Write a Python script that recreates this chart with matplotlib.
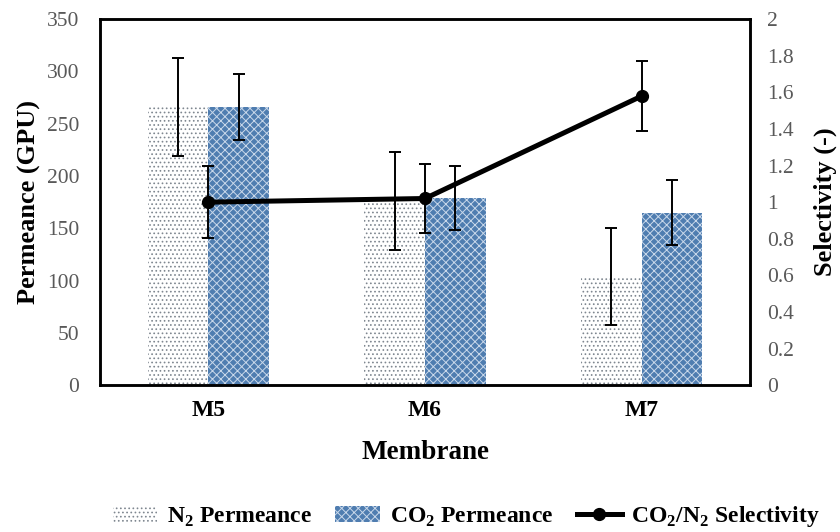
import matplotlib
matplotlib.use("Agg")
import matplotlib.pyplot as plt
import numpy as np
from matplotlib.lines import Line2D
from matplotlib.patches import Patch

plt.rcParams['font.family'] = ['Liberation Serif', 'DejaVu Serif']
plt.rcParams['mathtext.fontset'] = 'custom'
plt.rcParams['mathtext.rm'] = 'Liberation Serif'
plt.rcParams['mathtext.bf'] = 'Liberation Serif:bold'
plt.rcParams['hatch.linewidth'] = 0.7

membranes = ["M5", "M6", "M7"]
n2_perm = [266, 176, 104]
n2_err = [47, 47, 46]
co2_perm = [266, 179, 165]
co2_err = [32, 31, 31]
selectivity = [1.00, 1.02, 1.58]
sel_err = [0.195, 0.19, 0.19]

N2_FACE, N2_HATCH = 'white', '#7f8790'
CO2_FACE, CO2_HATCH = '#4f7db0', '#c9d8ea'

fig = plt.figure(figsize=(8.4, 5.32), dpi=100)
ax = fig.add_axes([0.119, 0.276, 0.774, 0.688])
ax2 = ax.twinx()

x = np.arange(len(membranes))
w = 0.28

ax.bar(x - w / 2, n2_perm, w, facecolor=N2_FACE, edgecolor=N2_HATCH,
       hatch='....', linewidth=0, zorder=1)
ax.bar(x + w / 2, co2_perm, w, facecolor=CO2_FACE, edgecolor=CO2_HATCH,
       hatch='xxxx', linewidth=0, zorder=1)
err_style = dict(fmt='none', ecolor='black', elinewidth=1.4, capsize=4,
                 capthick=1.4)
ax.errorbar(x - w / 2, n2_perm, yerr=n2_err, zorder=3, **err_style)
ax.errorbar(x + w / 2, co2_perm, yerr=co2_err, zorder=3, **err_style)

ax2.plot(x, selectivity, color='black', linewidth=3.6, marker='o',
         markersize=8.5, zorder=4)
ax2.errorbar(x, selectivity, yerr=sel_err, zorder=4, **err_style)

ax.set_xlim(-0.5, 2.5)
ax.set_ylim(0, 350)
ax.set_yticks(np.arange(0, 351, 50))
ax2.set_ylim(0, 2)
ax2.set_yticks(np.arange(0, 2.01, 0.2))
ax2.set_yticklabels(['0', '0.2', '0.4', '0.6', '0.8', '1', '1.2', '1.4',
                     '1.6', '1.8', '2'])

ax.set_xticks(x)
ax.set_xticklabels(membranes, fontweight='bold', fontsize=17)
ax.tick_params(axis='x', length=0, pad=11)
ax.tick_params(axis='y', length=0, pad=15, labelsize=15.5, labelcolor='#595959')
ax2.tick_params(axis='y', length=0, pad=12, labelsize=15.5, labelcolor='#595959')

for a in (ax, ax2):
    for s in a.spines.values():
        s.set_linewidth(1.8)
        s.set_color('black')

ax.set_xlabel('Membrane', fontweight='bold', fontsize=19.5, labelpad=13)
ax.set_ylabel('Permeance (GPU)', fontweight='bold', fontsize=19, labelpad=4)
ax2.set_ylabel('Selectivity (-)', fontweight='bold', fontsize=19, labelpad=14)

handles = [
    Patch(facecolor=N2_FACE, edgecolor=N2_HATCH, hatch='....', linewidth=0),
    Patch(facecolor=CO2_FACE, edgecolor=CO2_HATCH, hatch='xxxx', linewidth=0),
    Line2D([0], [0], color='black', linewidth=3.6, marker='o', markersize=8.5),
]
labels = [r'N$_\mathbf{2}$ Permeance', r'CO$_\mathbf{2}$ Permeance',
          r'CO$_\mathbf{2}$/N$_\mathbf{2}$ Selectivity']
fig.legend(handles, labels, loc='lower center', bbox_to_anchor=(0.555, -0.035),
           ncol=3, frameon=False, prop={'weight': 'bold', 'size': 17},
           handlelength=1.9, columnspacing=1.0, handletextpad=0.4)

fig.savefig('out.png', dpi=100)
